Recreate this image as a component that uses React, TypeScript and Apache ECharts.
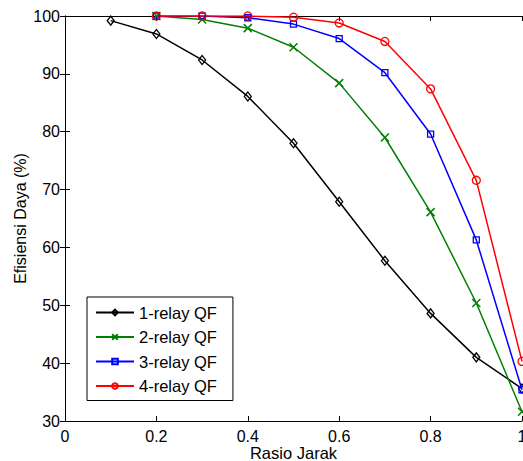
import React, { useEffect, useRef } from "react";
import * as echarts from "echarts";

const xValues = [0.1, 0.2, 0.3, 0.4, 0.5, 0.6, 0.7, 0.8, 0.9, 1.0];
const relay1 = [99.2, 96.9, 92.4, 86.1, 78.0, 67.9, 57.7, 48.6, 41.0, 35.6];
const relay2 = [null, 100, 99.4, 97.9, 94.6, 88.4, 79.0, 66.1, 50.4, 31.6];
const relay3 = [null, 100, 100, 99.7, 98.6, 96.1, 90.2, 79.6, 61.3, 35.4];
const relay4 = [null, 100, 100, 100, 99.8, 98.8, 95.6, 87.4, 71.6, 40.3];
const seriesNames = ["1-relay QF", "2-relay QF", "3-relay QF", "4-relay QF"];
const xLabel = "Rasio Jarak";
const yLabel = "Efisiensi Daya (%)";

const FONT = "'Liberation Sans', Arial, Helvetica, sans-serif";

export default function App() {
  const ref = useRef<HTMLDivElement>(null);
  useEffect(() => {
    if (!ref.current) return;
    document.body.style.margin = "0";
    const chart = echarts.init(ref.current, null, { renderer: "svg", width: 523, height: 461 });
    const pair = (arr: (number | null)[]) =>
      xValues.map((x, i) => (arr[i] == null ? null : [x, arr[i]])).filter((d) => d) as number[][];
    const mkSeries = (name: string, data: number[][], color: string, symbol: string, size: any, extra: any = {}) => ({
      name,
      type: "line",
      data,
      symbol,
      symbolSize: size,
      showSymbol: true,
      clip: true,
      lineStyle: { color, width: 1.5 },
      itemStyle: { color: "rgba(0,0,0,0)", borderColor: color, borderWidth: 1.3 },
      color,
      emphasis: { disabled: true },
      ...extra,
    });
    const axisCommon = {
      axisLine: { show: true, lineStyle: { color: "#000", width: 1 } },
      axisTick: { show: true, inside: true, length: 5, lineStyle: { color: "#000" } },
      splitLine: { show: false },
    };
    chart.setOption({
      animation: false,
      backgroundColor: "#fff",
      textStyle: { fontFamily: FONT },
      grid: { left: 65, right: 1, top: 16, bottom: 40, containLabel: false, outerBoundsMode: "none" },
      legend: {
        orient: "vertical",
        left: 87,
        top: 297,
        data: seriesNames,
        backgroundColor: "#fff",
        borderColor: "#000",
        borderWidth: 1,
        borderRadius: 0,
        padding: [7, 16, 6, 8],
        itemWidth: 38,
        itemHeight: 7,
        itemGap: 7.5,
        textStyle: { fontSize: 16.5, color: "#000", fontFamily: FONT },
      },
      xAxis: [
        {
          type: "value",
          min: 0,
          max: 1,
          interval: 0.2,
          name: xLabel,
          nameLocation: "middle",
          nameGap: 23,
          nameMoveOverlap: false,
          nameTextStyle: { fontSize: 16.5, color: "#000", fontFamily: FONT },
          axisLabel: { fontSize: 16, color: "#000", margin: 7, fontFamily: FONT },
          ...axisCommon,
        },
        {
          type: "value",
          position: "top",
          min: 0,
          max: 1,
          interval: 0.2,
          axisLabel: { show: false },
          ...axisCommon,
        },
      ],
      yAxis: [
        {
          type: "value",
          min: 30,
          max: 100,
          interval: 10,
          name: yLabel,
          nameLocation: "middle",
          nameGap: 37,
          nameMoveOverlap: false,
          nameTextStyle: { fontSize: 16, color: "#000", fontFamily: FONT },
          axisLabel: { fontSize: 16, color: "#000", margin: 5, fontFamily: FONT },
          ...axisCommon,
        },
        {
          type: "value",
          position: "right",
          min: 30,
          max: 100,
          interval: 10,
          axisLabel: { show: false },
          ...axisCommon,
        },
      ],
      series: [
        mkSeries(seriesNames[0], pair(relay1), "#000000", "diamond", [7, 9]),
        mkSeries(seriesNames[1], pair(relay2), "#008000", "path://M0 0L10 10M10 0L0 10", 8, {
          itemStyle: { color: "rgba(0,0,0,0)", borderColor: "#008000", borderWidth: 1.5 },
        }),
        mkSeries(seriesNames[2], pair(relay3), "#0000ff", "rect", 6),
        mkSeries(seriesNames[3], pair(relay4), "#ff0000", "circle", 8),
      ],
    });
    return () => chart.dispose();
  }, []);
  return (
    <div
      ref={ref}
      style={{ position: "fixed", left: 0, top: 0, width: 523, height: 461, background: "#fff" }}
    />
  );
}
